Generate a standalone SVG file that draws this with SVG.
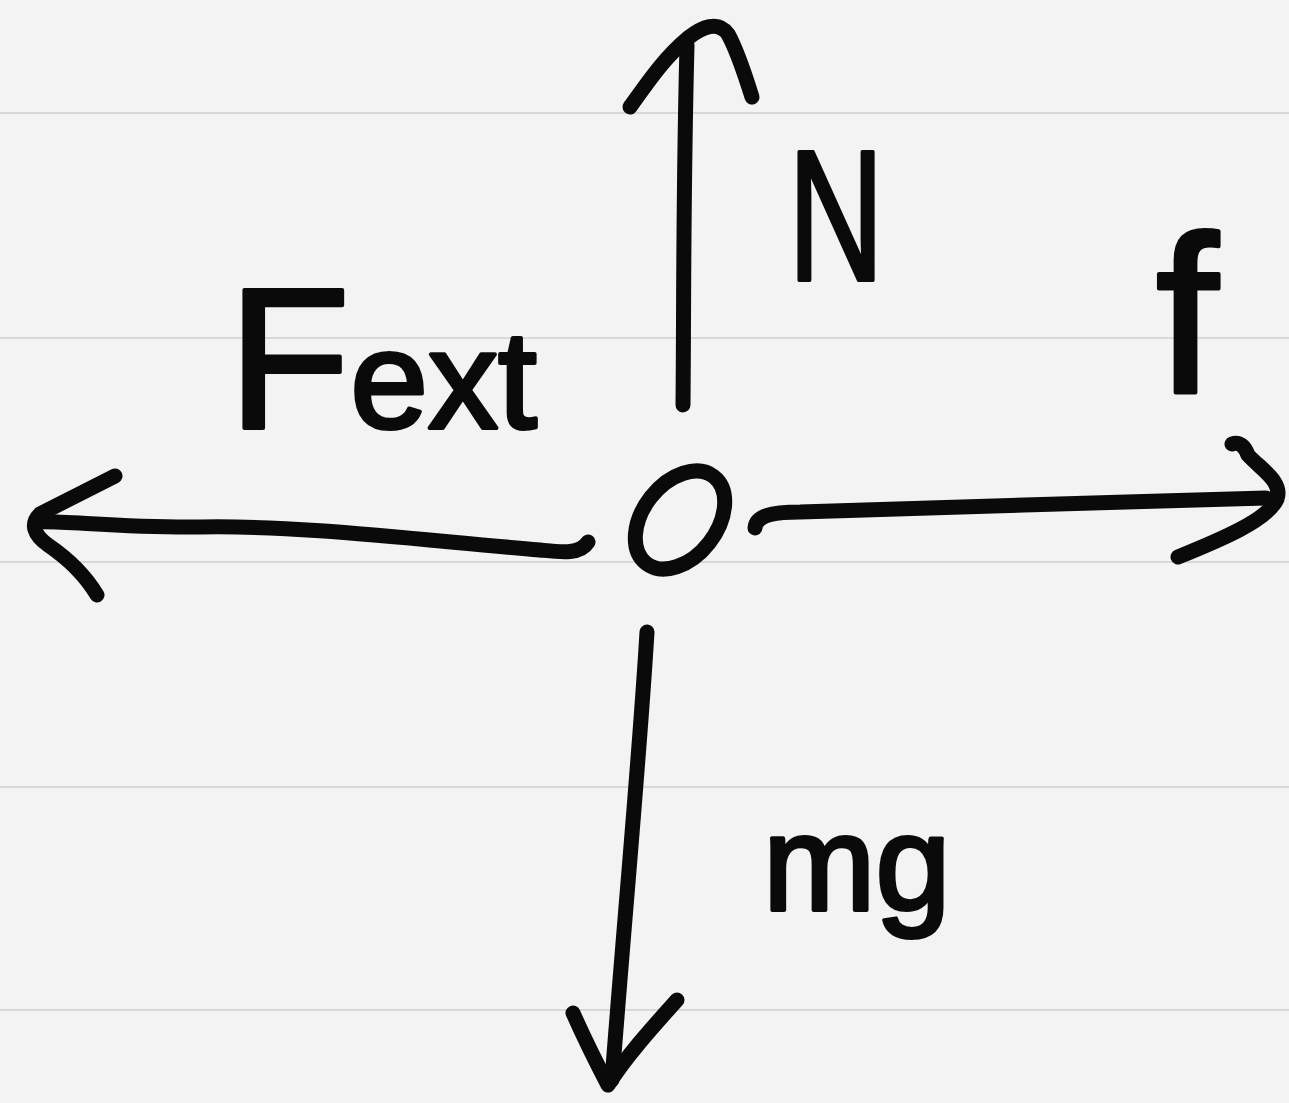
<svg xmlns="http://www.w3.org/2000/svg" width="1289" height="1103" viewBox="0 0 1289 1103">
  <style>
    .rule { stroke: #d8d8d8; stroke-width: 2; }
    .ink { fill: none; stroke: #0a0a0a; stroke-width: 15; stroke-linecap: round; stroke-linejoin: round; }
    .label { font-family: "Liberation Sans", Arial, sans-serif; fill: #0a0a0a; stroke: #0a0a0a; stroke-width: 4; stroke-linejoin: round; }
  </style>
  <rect x="0" y="0" width="1289" height="1103" fill="#f3f3f3"/>
  <g id="ruled-lines">
    <line class="rule" x1="0" y1="113" x2="1289" y2="113"/>
    <line class="rule" x1="0" y1="338" x2="1289" y2="338"/>
    <line class="rule" x1="0" y1="562" x2="1289" y2="562"/>
    <line class="rule" x1="0" y1="787" x2="1289" y2="787"/>
    <line class="rule" x1="0" y1="1010" x2="1289" y2="1010"/>
  </g>
  <g id="connectors">
    <g id="arrow-N">
      <path class="ink" d="M683,405 C684,300 683,200 687,45"/>
      <path class="ink" d="M630,107 C648,82 664,58 688,38 C702,27 718,20 728,34 C738,52 745,75 752,97"/>
    </g>
    <g id="arrow-f">
      <path class="ink" d="M755,528 C756,516 770,512 800,512 C900,510 1100,502 1266,498"/>
      <path class="ink" d="M1232,444 C1240,441 1245,447 1248,455 C1262,470 1283,482 1277,499 C1268,520 1220,540 1178,557"/>
    </g>
    <g id="arrow-Fext">
      <path class="ink" d="M588,542 C580,555 560,552 540,550 C420,540 300,525 200,527 C120,528 60,520 36,522"/>
      <path class="ink" d="M115,476 L40,514 C30,524 34,535 48,545 C70,560 85,575 97,595"/>
    </g>
    <g id="arrow-mg">
      <path class="ink" d="M647,632 C640,750 626,900 612,1080"/>
      <path class="ink" d="M573,1013 C585,1040 597,1064 608,1085 C625,1058 650,1030 677,1000"/>
    </g>
  </g>
  <g id="node-body">
    <ellipse class="ink" cx="680" cy="520" rx="55" ry="37" transform="rotate(-52 680 520)"/>
  </g>
  <g id="label-N">
    <text class="label" x="788" y="280" font-size="185" textLength="96" lengthAdjust="spacingAndGlyphs">N</text>
  </g>
  <g id="label-f">
    <text class="label" x="1187" y="393" font-size="225" text-anchor="middle">f</text>
  </g>
  <g id="label-Fext">
    <text class="label" x="228" y="428" font-size="200">F<tspan font-size="140">ext</tspan></text>
  </g>
  <g id="label-mg">
    <text class="label" x="763" y="910" font-size="135">mg</text>
  </g>
</svg>
